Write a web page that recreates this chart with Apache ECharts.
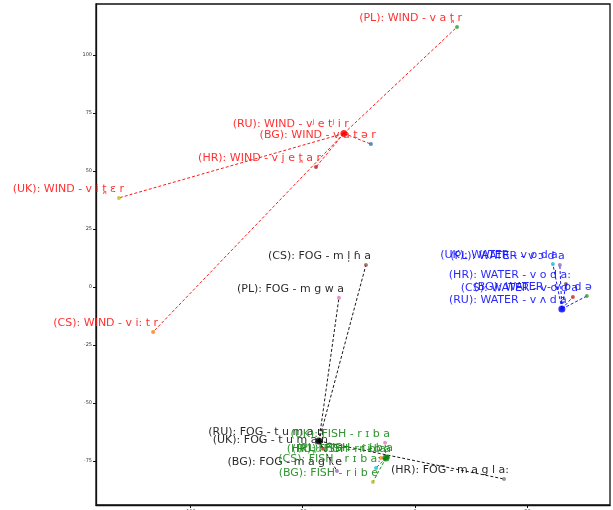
<!DOCTYPE html>
<html>
<head>
<meta charset="utf-8">
<script src="https://cdn.jsdelivr.net/npm/echarts@6/dist/echarts.min.js"></script>
<style>html,body{margin:0;padding:0;background:#fff;}#c{width:613px;height:510px;}</style>
</head>
<body>
<div id="c"></div>
<script>
// ---- data ----
const languages = ['PL', 'RU', 'BG', 'HR', 'UK', 'CS'];
const concepts = ['WIND', 'WATER', 'FOG', 'FISH'];
const referenceLanguage = 'RU';

const windX = [18.7, -31.6, -19.6, -44.0, -131.6, -116.4];
const windY = [112.1, 66.2, 61.6, 51.7, 38.4, -19.4];
const windIPA = ['v a t̪ r', 'vʲ e tʲ i r', 'v a t ə r', 'v j e t̪ a r', 'v i t̪ ɛ r', 'v i: t r'];

const waterX = [64.4, 65.3, 76.4, 67.1, 61.3, 70.2];
const waterY = [9.5, -9.5, -3.9, 1.3, 9.9, -4.3];
const waterIPA = ['v ɔ d a', 'v ʌ d a', 'v o d ə', 'v o d a:', 'v o d a', 'v o d a'];

const fogX = [-33.8, -42.7, -34.7, 39.6, -40.9, -21.8];
const fogY = [-4.7, -66.4, -79.3, -82.8, -69.8, 9.5];
const fogIPA = ['m g w a', 't u m a n', 'm a g l e', 'm a g l a:', 't u m a n', 'm l̩ ɦ a'];

const fishX = [-12.0, -12.9, -18.7, -15.1, -13.3, -17.3];
const fishY = [-73.3, -73.7, -84.1, -73.7, -67.2, -78.0];
const fishIPA = ['r ɨ b a', 'r ɨ b a', 'r i b e', 'r i b a', 'r ɪ b a', 'r ɪ b a:'];

const xTicks = [-100, -50, 0, 50];
const yTicks = [-75, -50, -25, 0, 25, 50, 75, 100];

// ---- styles ----
const conceptColors = { WIND: '#ff1a1a', WATER: '#1010ff', FOG: '#111111', FISH: '#1a8a1a' };
const refColors = { WIND: '#ff0000', WATER: '#0000ff', FOG: '#000000', FISH: '#008000' };
const pointColors = {
  WIND:  ['#2ca02c', '#d62728', '#1f77b4', '#b02020', '#bcbd22', '#ff7f0e'],
  WATER: ['#9467bd', '#1f77b4', '#2ca02c', '#8c564b', '#17becf', '#d62728'],
  FOG:   ['#e377c2', '#000000', '#9467bd', '#7f7f7f', '#d62728', '#8c564b'],
  FISH:  ['#2ca02c', '#2ca02c', '#bcbd22', '#ff7f0e', '#e377c2', '#17becf']
};

const conceptData = {
  WIND: [windX, windY, windIPA],
  WATER: [waterX, waterY, waterIPA],
  FOG: [fogX, fogY, fogIPA],
  FISH: [fishX, fishY, fishIPA]
};

const series = [];
const refIdx = languages.indexOf(referenceLanguage);

concepts.forEach(function (c) {
  const xs = conceptData[c][0], ys = conceptData[c][1];
  const lineData = [];
  languages.forEach(function (lang, i) {
    if (i === refIdx) return;
    lineData.push({ coords: [[xs[refIdx], ys[refIdx]], [xs[i], ys[i]]] });
  });
  series.push({
    type: 'lines',
    coordinateSystem: 'cartesian2d',
    polyline: false,
    silent: true,
    z: 1,
    symbol: 'none',
    lineStyle: { color: refColors[c], type: [3, 2], width: 1, opacity: 0.9 },
    data: lineData
  });
});

concepts.forEach(function (c) {
  const xs = conceptData[c][0], ys = conceptData[c][1], ipa = conceptData[c][2];
  series.push({
    type: 'scatter',
    z: 3,
    symbolSize: 4,
    data: languages.map(function (lang, i) {
      return {
        value: [xs[i], ys[i]],
        itemStyle: { color: pointColors[c][i] },
        label: { formatter: '(' + lang + '): ' + c + ' - ' + ipa[i] }
      };
    }),
    label: {
      show: true,
      position: 'inside',
      align: 'right',
      verticalAlign: 'middle',
      offset: [5, -9],
      fontFamily: 'DejaVu Sans',
      fontSize: 11,
      color: conceptColors[c],
      opacity: 0.9
    }
  });
  series.push({
    type: 'scatter',
    z: 4,
    symbolSize: 7,
    itemStyle: { color: refColors[c] },
    data: [[xs[refIdx], ys[refIdx]]]
  });
});

const chart = echarts.init(document.getElementById('c'), null, { renderer: 'canvas' });
chart.setOption({
  animation: false,
  backgroundColor: '#ffffff',
  grid: { left: 96, right: 3, top: 4, bottom: 5, containLabel: false, outerBoundsMode: 'none', show: true, borderColor: '#111', borderWidth: 1.3, backgroundColor: 'transparent' },
  xAxis: {
    type: 'value', min: -141.8, max: 86.7,
    axisLine: { show: true, onZero: false, lineStyle: { color: '#111', width: 1.3 } },
    axisTick: { show: true, length: 3, customValues: xTicks, lineStyle: { color: '#111' } },
    axisLabel: { customValues: xTicks, fontSize: 5, color: '#333', margin: 4, fontFamily: 'DejaVu Sans' },
    splitLine: { show: false }
  },
  yAxis: {
    type: 'value', min: -94, max: 122,
    axisLine: { show: true, onZero: false, lineStyle: { color: '#111', width: 1.3 } },
    axisTick: { show: true, length: 3, customValues: yTicks, lineStyle: { color: '#111' } },
    axisLabel: { customValues: yTicks, fontSize: 5, color: '#333', margin: 4, fontFamily: 'DejaVu Sans' },
    splitLine: { show: false }
  },
  series: series
});
</script>
</body>
</html>
